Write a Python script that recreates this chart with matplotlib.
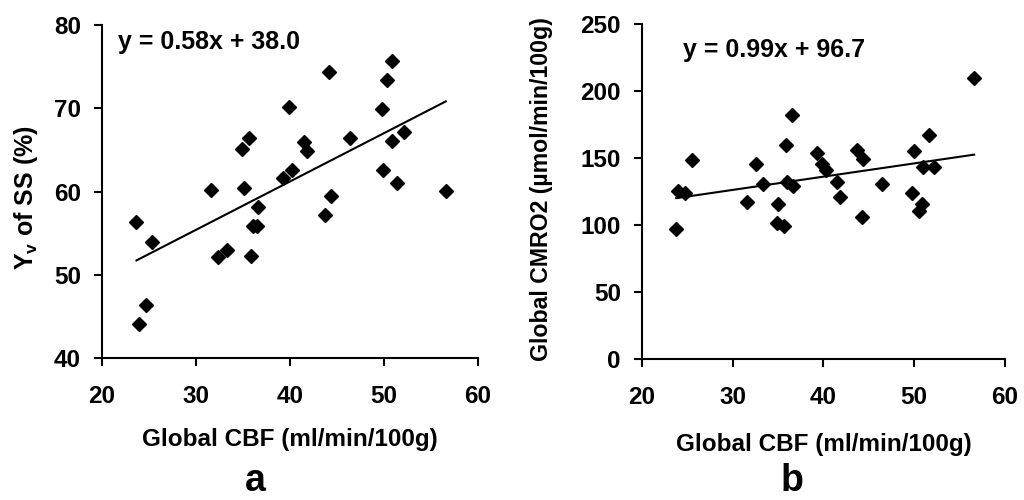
# plot.py
# Global CBF vs. venous oxygenation (a) and vs. CMRO2 (b)

import numpy as np
import matplotlib
matplotlib.use("Agg")
import matplotlib.pyplot as plt

# panel a: Global CBF (ml/min/100g) vs Yv of SS (%)
cbf_a = [23.7, 25.3, 24.7, 24.0, 31.6, 32.4, 33.3, 34.9, 35.7, 35.1, 36.6,
         36.1, 36.5, 35.9, 39.3, 40.2, 39.9, 41.5, 41.8, 44.2, 44.4, 43.8,
         46.4, 49.8, 50.3, 50.9, 50.9, 52.2, 49.9, 51.4, 56.6]
yv = [56.4, 54.0, 46.4, 44.1, 60.2, 52.1, 53.0, 65.1, 66.4, 60.4, 58.1,
      55.9, 55.9, 52.3, 61.6, 62.6, 70.2, 66.0, 64.9, 74.3, 59.5, 57.2,
      66.4, 69.9, 73.4, 75.7, 66.1, 67.1, 62.6, 61.0, 60.1]
fit_a = (0.58, 38.0)

# panel b: Global CBF (ml/min/100g) vs Global CMRO2 (umol/min/100g)
cbf_b = [23.8, 24.0, 24.8, 25.5, 31.6, 32.6, 33.3, 35.0, 34.9, 35.7, 35.9,
         36.0, 36.6, 36.5, 39.3, 39.9, 40.3, 41.5, 41.8, 43.7, 44.4, 44.3,
         46.5, 49.8, 50.0, 50.5, 50.9, 51.0, 51.6, 52.2, 56.6]
cmro2 = [97.0, 125.9, 123.9, 148.8, 117.2, 145.5, 130.6, 115.7, 101.5, 99.5,
         160.0, 132.6, 129.6, 182.1, 154.2, 145.5, 141.3, 132.1, 121.4,
         156.2, 149.5, 106.5, 130.6, 124.4, 155.7, 110.9, 115.7, 143.8,
         167.4, 143.8, 210.2]
fit_b = (0.99, 96.7)

plt.rcParams["font.family"] = ["Liberation Sans", "DejaVu Sans"]
plt.rcParams["font.weight"] = "bold"
plt.rcParams["mathtext.fontset"] = "custom"
plt.rcParams["mathtext.rm"] = "Liberation Sans:bold"
plt.rcParams["mathtext.bf"] = "Liberation Sans:bold"
plt.rcParams["mathtext.it"] = "Liberation Sans:bold"
plt.rcParams["mathtext.default"] = "bf"


def style_axes(ax, ylim, yticks):
    ax.spines[["top", "right"]].set_visible(False)
    for s in ("left", "bottom"):
        ax.spines[s].set_linewidth(1.5)
    ax.set_xlim(20, 60)
    ax.set_xticks(np.arange(20, 61, 10))
    ax.set_ylim(*ylim)
    ax.set_yticks(yticks)
    ax.tick_params(axis="both", direction="out", length=6, width=1.5,
                   labelsize=17.5)
    ax.tick_params(axis="x", pad=13)
    ax.tick_params(axis="y", pad=9)
    for lbl in ax.get_xticklabels() + ax.get_yticklabels():
        lbl.set_fontweight("bold")


def scatter_with_fit(ax, x, y, fit):
    x = np.asarray(x)
    ax.plot(x, y, linestyle="none", marker="D", markersize=7,
            color="black", clip_on=False)
    xs = np.array([x.min(), x.max()])
    ax.plot(xs, fit[0] * xs + fit[1], color="black", linewidth=1.5)


fig = plt.figure(figsize=(10.24, 5.0), dpi=100)
ax_a = fig.add_axes([0.0993, 0.2834, 0.3672, 0.6666])
ax_b = fig.add_axes([0.6267, 0.2814, 0.3548, 0.6700])

style_axes(ax_a, (40, 80), np.arange(40, 81, 10))
scatter_with_fit(ax_a, cbf_a, yv, fit_a)
ax_a.text(0.043, 0.928, f"y = {fit_a[0]:.2f}x + {fit_a[1]:.1f}",
          transform=ax_a.transAxes, fontsize=18, fontweight="bold",
          va="baseline")
ax_a.set_xlabel("Global CBF (ml/min/100g)", fontsize=17.5, fontweight="bold")
ax_a.xaxis.set_label_coords(0.5, -0.209)
ax_a.set_ylabel("Y$_{v}$ of SS (%)", fontsize=18, fontweight="bold")
ax_a.yaxis.set_label_coords(-0.165, 0.482)

style_axes(ax_b, (0, 250), np.arange(0, 251, 50))
scatter_with_fit(ax_b, cbf_b, cmro2, fit_b)
ax_b.text(0.114, 0.901, f"y = {fit_b[0]:.2f}x + {fit_b[1]:.1f}",
          transform=ax_b.transAxes, fontsize=18, fontweight="bold",
          va="baseline")
ax_b.set_xlabel("Global CBF (ml/min/100g)", fontsize=17.5, fontweight="bold")
ax_b.xaxis.set_label_coords(0.5, -0.22)
ax_b.set_ylabel("Global CMRO2 (µmol/min/100g)", fontsize=16.7,
                fontweight="bold")
ax_b.yaxis.set_label_coords(-0.244, 0.508)

# panel letters under each chart
fig.text(255 / 1024, 1 / 500, "a", fontsize=27, fontweight="bold",
         ha="center", va="bottom")
fig.text(792 / 1024, 1 / 500, "b", fontsize=27, fontweight="bold",
         ha="center", va="bottom")

fig.savefig("out.png", dpi=100)
